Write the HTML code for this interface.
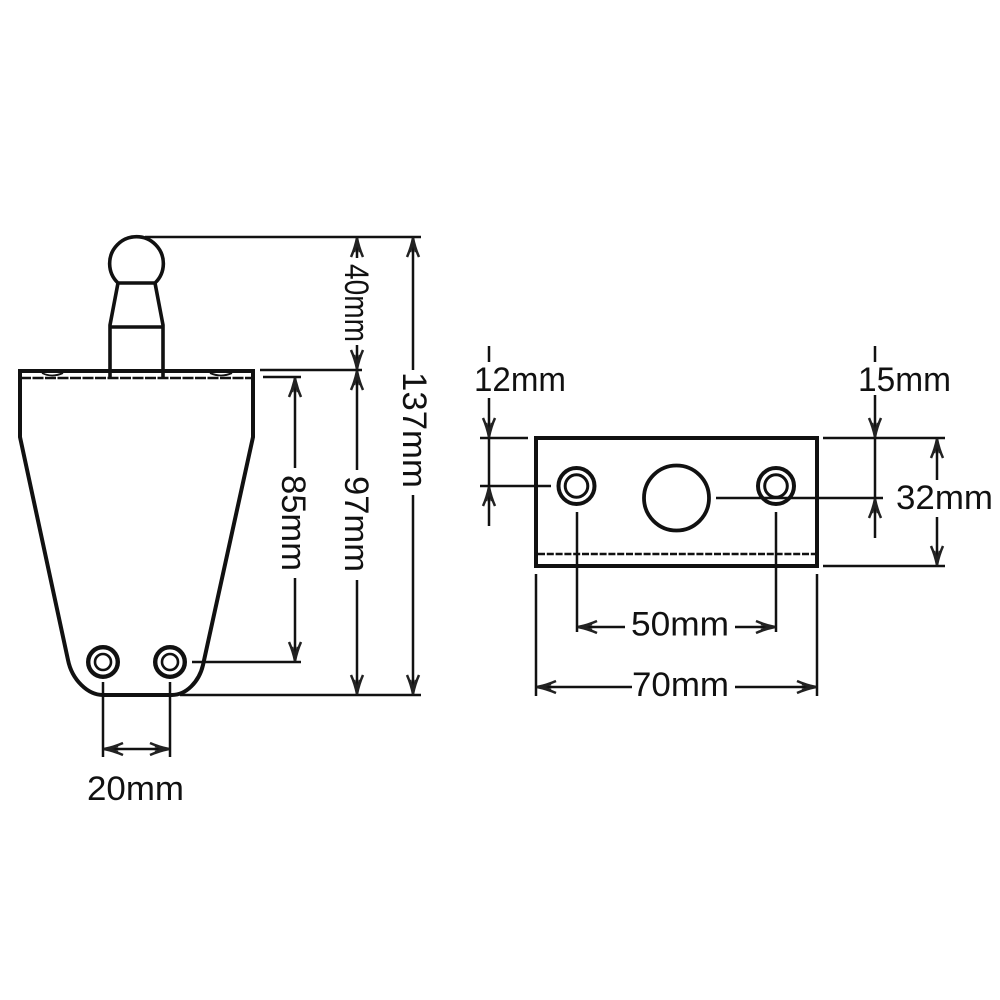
<!DOCTYPE html>
<html><head><meta charset="utf-8"><style>
html,body{margin:0;padding:0;background:#fff}
svg{display:block}
text{font-family:"Liberation Sans",sans-serif;font-size:34px;fill:#111}
.a{fill:none;stroke:#222;stroke-width:2.5}
</style></head><body>
<svg width="1000" height="1000" viewBox="0 0 1000 1000">
<defs>
<path id="u" class="a" d="M-6 20Q-2 11 0 1Q2 11 6 20M-3 15L0 5L3 15"/>
</defs>
<rect width="1000" height="1000" fill="#fff"/>
<g fill="none" stroke="#111" stroke-width="3.6">
<!-- side view -->
<path d="M118 283A26.85 26.85 0 1 1 155 283Z"/>
<path d="M118 283L110 325V378M155 283L163 325V378M110 327H163"/>
<path d="M18 371H255" stroke-width="4"/>
<path d="M20 371V437L68 660C72 680 88 695 103 695H172C186 695 199 682 203 665L253 437V371" stroke-width="4"/>
<circle cx="103" cy="662" r="14.8" stroke-width="4.4"/><circle cx="103" cy="662" r="8" stroke-width="2.6"/>
<circle cx="170" cy="662" r="14.8" stroke-width="4.4"/><circle cx="170" cy="662" r="8" stroke-width="2.6"/>
<path d="M20 378H253" stroke-width="2.6" stroke-dasharray="11 1.5"/>
<path d="M42 373Q52 378 63 373M210 373Q221 378 232 373" stroke-width="1.8"/>
<!-- top view -->
<rect x="536" y="438" width="281" height="128" stroke-width="4"/>
<path d="M538 554H815" stroke-width="2.6" stroke-dasharray="7 1.8"/>
<circle cx="676.5" cy="498" r="32.5" stroke-width="3.8"/>
<circle cx="576.5" cy="486" r="18" stroke-width="4"/><circle cx="576.5" cy="486" r="11.3" stroke-width="3"/>
<circle cx="776" cy="486" r="18" stroke-width="4"/><circle cx="776" cy="486" r="11.3" stroke-width="3"/>
</g>
<g fill="none" stroke="#111" stroke-width="2.5">
<!-- side extension / dim lines -->
<path d="M145 237H421M260 370H362M263 377H301M192 662H301M180 695H421"/>
<path d="M103 682V757M170 682V757M103 749H170"/>
<path d="M295 377V468M295 578V662"/>
<path d="M357 237V258M357 345V370M357 370V470M357 580V695"/>
<path d="M413 237V370M413 495V695"/>
<!-- top extension / dim lines -->
<path d="M480 438H528M480 486H551"/>
<path d="M489 346V362M489 398V526"/>
<path d="M823 438H945M823 566H945M716 498H883"/>
<path d="M875 346V362M875 395V538"/>
<path d="M937 438V480M937 517V566"/>
<path d="M577 512V632M776 512V632M536 574V696M817 574V696"/>
<path d="M577 627H625M735 627H776M536 687H632M735 687H817"/>
</g>
<!-- arrowheads -->
<use href="#u" transform="translate(357 237)"/>
<use href="#u" transform="translate(357 370) rotate(180)"/>
<use href="#u" transform="translate(357 370)"/>
<use href="#u" transform="translate(357 695) rotate(180)"/>
<use href="#u" transform="translate(413 237)"/>
<use href="#u" transform="translate(413 695) rotate(180)"/>
<use href="#u" transform="translate(295 377)"/>
<use href="#u" transform="translate(295 662) rotate(180)"/>
<use href="#u" transform="translate(103 749) rotate(-90)"/>
<use href="#u" transform="translate(170 749) rotate(90)"/>
<use href="#u" transform="translate(489 438) rotate(180)"/>
<use href="#u" transform="translate(489 486)"/>
<use href="#u" transform="translate(875 438) rotate(180)"/>
<use href="#u" transform="translate(875 498)"/>
<use href="#u" transform="translate(937 438)"/>
<use href="#u" transform="translate(937 566) rotate(180)"/>
<use href="#u" transform="translate(577 627) rotate(-90)"/>
<use href="#u" transform="translate(776 627) rotate(90)"/>
<use href="#u" transform="translate(536 687) rotate(-90)"/>
<use href="#u" transform="translate(817 687) rotate(90)"/>
<!-- labels -->
<text x="87" y="800" textLength="97" lengthAdjust="spacingAndGlyphs">20mm</text>
<text x="474" y="391" textLength="92" lengthAdjust="spacingAndGlyphs">12mm</text>
<text x="858" y="391" textLength="93" lengthAdjust="spacingAndGlyphs">15mm</text>
<text x="896" y="509" textLength="97" lengthAdjust="spacingAndGlyphs">32mm</text>
<text x="631" y="635.5" textLength="98" lengthAdjust="spacingAndGlyphs">50mm</text>
<text x="632" y="696" textLength="97" lengthAdjust="spacingAndGlyphs">70mm</text>
<text transform="translate(345 264) rotate(90)" textLength="78" lengthAdjust="spacingAndGlyphs">40mm</text>
<text transform="translate(345 476) rotate(90)" textLength="96" lengthAdjust="spacingAndGlyphs">97mm</text>
<text transform="translate(282 475) rotate(90)" textLength="96" lengthAdjust="spacingAndGlyphs">85mm</text>
<text transform="translate(403 372) rotate(90)" textLength="116" lengthAdjust="spacingAndGlyphs">137mm</text>
</svg>
</body></html>
